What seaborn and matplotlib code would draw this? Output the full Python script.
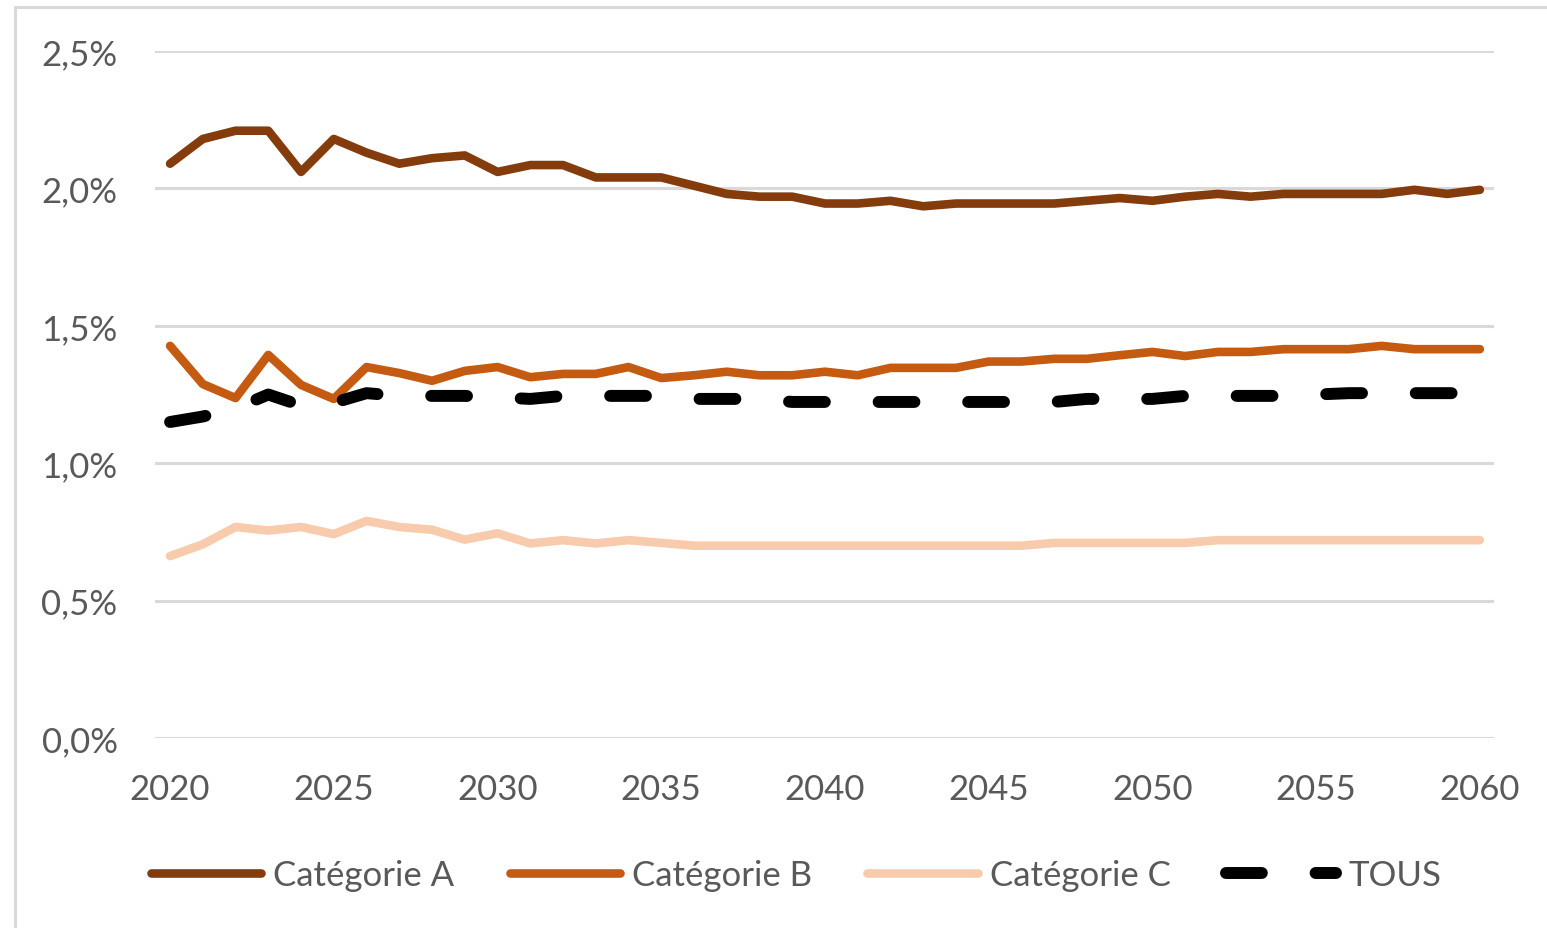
import matplotlib
matplotlib.use("Agg")
import matplotlib.pyplot as plt
from matplotlib.lines import Line2D
from matplotlib.ticker import FuncFormatter
import seaborn as sns
import pandas as pd

years = list(range(2020, 2061))

cat_a = [2.09, 2.18, 2.21, 2.21, 2.06, 2.18, 2.13, 2.09, 2.11, 2.12,
         2.06, 2.085, 2.085, 2.04, 2.04, 2.04, 2.01, 1.98, 1.97, 1.97,
         1.945, 1.945, 1.955, 1.935, 1.945, 1.945, 1.945, 1.945, 1.955, 1.965,
         1.955, 1.97, 1.98, 1.97, 1.98, 1.98, 1.98, 1.98, 1.995, 1.98,
         1.995]

cat_b = [1.427, 1.288, 1.237, 1.394, 1.285, 1.234, 1.35, 1.328, 1.30, 1.336,
         1.35, 1.313, 1.325, 1.325, 1.35, 1.31, 1.32, 1.333, 1.32, 1.32,
         1.333, 1.32, 1.347, 1.347, 1.347, 1.37, 1.37, 1.38, 1.38, 1.393,
         1.405, 1.39, 1.405, 1.405, 1.415, 1.415, 1.415, 1.427, 1.415, 1.415,
         1.415]

cat_c = [0.662, 0.705, 0.768, 0.755, 0.768, 0.742, 0.79, 0.768, 0.758, 0.722,
         0.745, 0.708, 0.72, 0.708, 0.72, 0.71, 0.70, 0.70, 0.70, 0.70,
         0.70, 0.70, 0.70, 0.70, 0.70, 0.70, 0.70, 0.71, 0.71, 0.71,
         0.71, 0.71, 0.72, 0.72, 0.72, 0.72, 0.72, 0.72, 0.72, 0.72,
         0.72]

tous = [1.15, 1.17, 1.20, 1.25, 1.21, 1.22, 1.255, 1.245, 1.245, 1.245,
        1.24, 1.234, 1.245, 1.245, 1.245, 1.245, 1.234, 1.234, 1.234, 1.223,
        1.223, 1.223, 1.223, 1.223, 1.223, 1.223, 1.223, 1.223, 1.234, 1.234,
        1.234, 1.245, 1.245, 1.245, 1.245, 1.25, 1.255, 1.255, 1.255, 1.255,
        1.255]

series_names = ["Catégorie A", "Catégorie B", "Catégorie C", "TOUS"]
series_values = [cat_a, cat_b, cat_c, tous]
colors = ["#843C0C", "#C55A11", "#F8CBAD", "#000000"]
y_ticks = [0.0, 0.5, 1.0, 1.5, 2.0, 2.5]
x_ticks = list(range(2020, 2061, 5))

sns.set_theme(style="white")
plt.rcParams["font.family"] = ["Lato", "DejaVu Sans"]

text_color = "#595959"
grid_color = "#d9d9d9"
fs = 25

fig = plt.figure(figsize=(15.47, 9.29), dpi=100)
ax = fig.add_axes([0.1002, 0.2045, 0.8655, 0.7395])

frames = []
for name, vals in zip(series_names, series_values):
    frames.append(pd.DataFrame({"year": years, "value": vals, "serie": name}))
df = pd.concat(frames, ignore_index=True)

handles = []
for name, col in zip(series_names, colors):
    sub = df[df["serie"] == name]
    lw = 8.6 if name == "TOUS" else 6.2
    sns.lineplot(data=sub, x="year", y="value", ax=ax, color=col,
                 linewidth=lw, legend=False, zorder=3 if name != "TOUS" else 4)
    line = ax.get_lines()[-1]
    line.set_solid_capstyle("round")
    line.set_solid_joinstyle("round")
    if name == "TOUS":
        line.set_dashes([3.0, 4.5])
        line.set_dash_capstyle("round")
        line.set_dash_joinstyle("round")
        h = Line2D([], [], color=col, linewidth=lw, dashes=[3.0, 4.5],
                   dash_capstyle="round")
    else:
        h = Line2D([], [], color=col, linewidth=lw, solid_capstyle="round")
    handles.append(h)

ax.set_xlim(2019.54, 2060.43)
ax.set_ylim(0, 2.5)
ax.set_yticks(y_ticks)
ax.set_xticks(x_ticks)
ax.yaxis.set_major_formatter(FuncFormatter(lambda v, p: f"{v:.1f}".replace(".", ",") + "%"))
ax.xaxis.set_major_formatter(FuncFormatter(lambda v, p: f"{int(v)}"))

ax.grid(axis="y", color=grid_color, linewidth=2.2, zorder=0)
ax.grid(axis="x", visible=False)
for s in ax.spines.values():
    s.set_visible(False)
ax.tick_params(axis="both", length=0, labelsize=fs, labelcolor=text_color)
ax.tick_params(axis="y", pad=27)
ax.tick_params(axis="x", pad=25)
ax.set_xlabel("")
ax.set_ylabel("")

fig.legend(handles, series_names, loc="center", bbox_to_anchor=(796 / 1547, 1 - 876 / 929),
           ncol=4, frameon=False, fontsize=fs, labelcolor=text_color,
           handlelength=3.17, handletextpad=0.35, columnspacing=1.6)

# outer chart border (top and left visible)
fig.add_artist(Line2D([15 / 1547, 1.0], [1 - 8 / 929, 1 - 8 / 929],
                      transform=fig.transFigure, color=grid_color, linewidth=2.2))
fig.add_artist(Line2D([15 / 1547, 15 / 1547], [0.0, 1 - 8 / 929],
                      transform=fig.transFigure, color=grid_color, linewidth=2.2))

fig.savefig("out.png", dpi=100)
